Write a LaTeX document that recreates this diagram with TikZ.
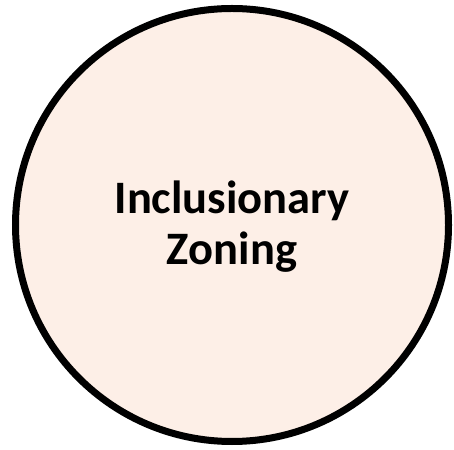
\documentclass[tikz,border=0pt]{standalone}
\usepackage{fontspec}
\setmainfont{Carlito}
\definecolor{peach}{RGB}{253,239,231}

\begin{document}
\begin{tikzpicture}[x=1pt,y=1pt]

\useasboundingbox (0,0) rectangle (454,449);

\draw[line width=7pt,fill=peach] (232,224) circle(216.5);  % zone

\node[align=center,font=\bfseries\fontsize{46.5}{51}\selectfont] (izlabel) at (232,222) {Inclusionary\\Zoning};

\end{tikzpicture}
\end{document}
